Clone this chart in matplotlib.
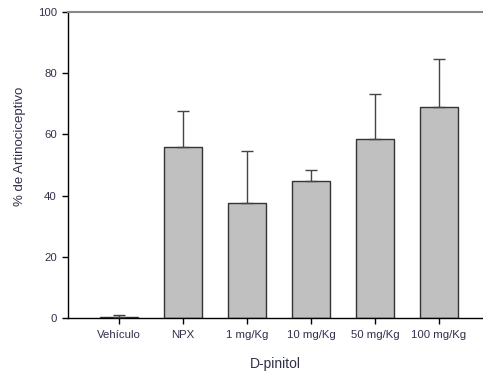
import numpy as np
import matplotlib.pyplot as plt

plt.rcParams['font.family'] = ['Liberation Sans', 'DejaVu Sans']

grupos = ['Vehículo', 'NPX', '1 mg/Kg', '10 mg/Kg', '50 mg/Kg', '100 mg/Kg']
media = [0.4, 55.9, 37.7, 44.8, 58.5, 69.1]
erro = [0.6, 11.8, 16.9, 3.6, 14.7, 15.5]

fig = plt.figure(figsize=(4.83, 3.73), dpi=100)
ax = fig.add_axes([0.1408, 0.1475, 0.859, 0.8203])

x = np.arange(len(grupos))
ax.bar(x, media, width=0.6, color='#c0c0c0', edgecolor='#333333', linewidth=1.0, zorder=2)
ax.errorbar(x, media, yerr=[np.zeros(len(erro)), erro], fmt='none',
            ecolor='#444444', elinewidth=1.0, capsize=4, capthick=1.0, zorder=3)

ax.set_xlim(-0.8, 5.69)
ax.set_ylim(0, 100)
ax.set_yticks([0, 20, 40, 60, 80, 100])
ax.set_xticks(x)
ax.set_xticklabels(grupos)

lab = '#30304a'
ax.tick_params(axis='both', direction='out', length=4, width=1, labelsize=8.2, labelcolor=lab, pad=4)
ax.tick_params(axis='x', pad=5)

ax.spines['right'].set_visible(False)
ax.spines['top'].set_color('#888888')
ax.spines['top'].set_linewidth(1.5)
ax.spines['left'].set_linewidth(1.0)
ax.spines['bottom'].set_linewidth(1.0)

ax.set_ylabel('% de Artinociceptivo', fontsize=9.5, color=lab)
ax.yaxis.set_label_coords(-0.101, 0.56)
ax.set_xlabel('D-pinitol', fontsize=10, color=lab, labelpad=12)

fig.savefig('out.png', dpi=100)
